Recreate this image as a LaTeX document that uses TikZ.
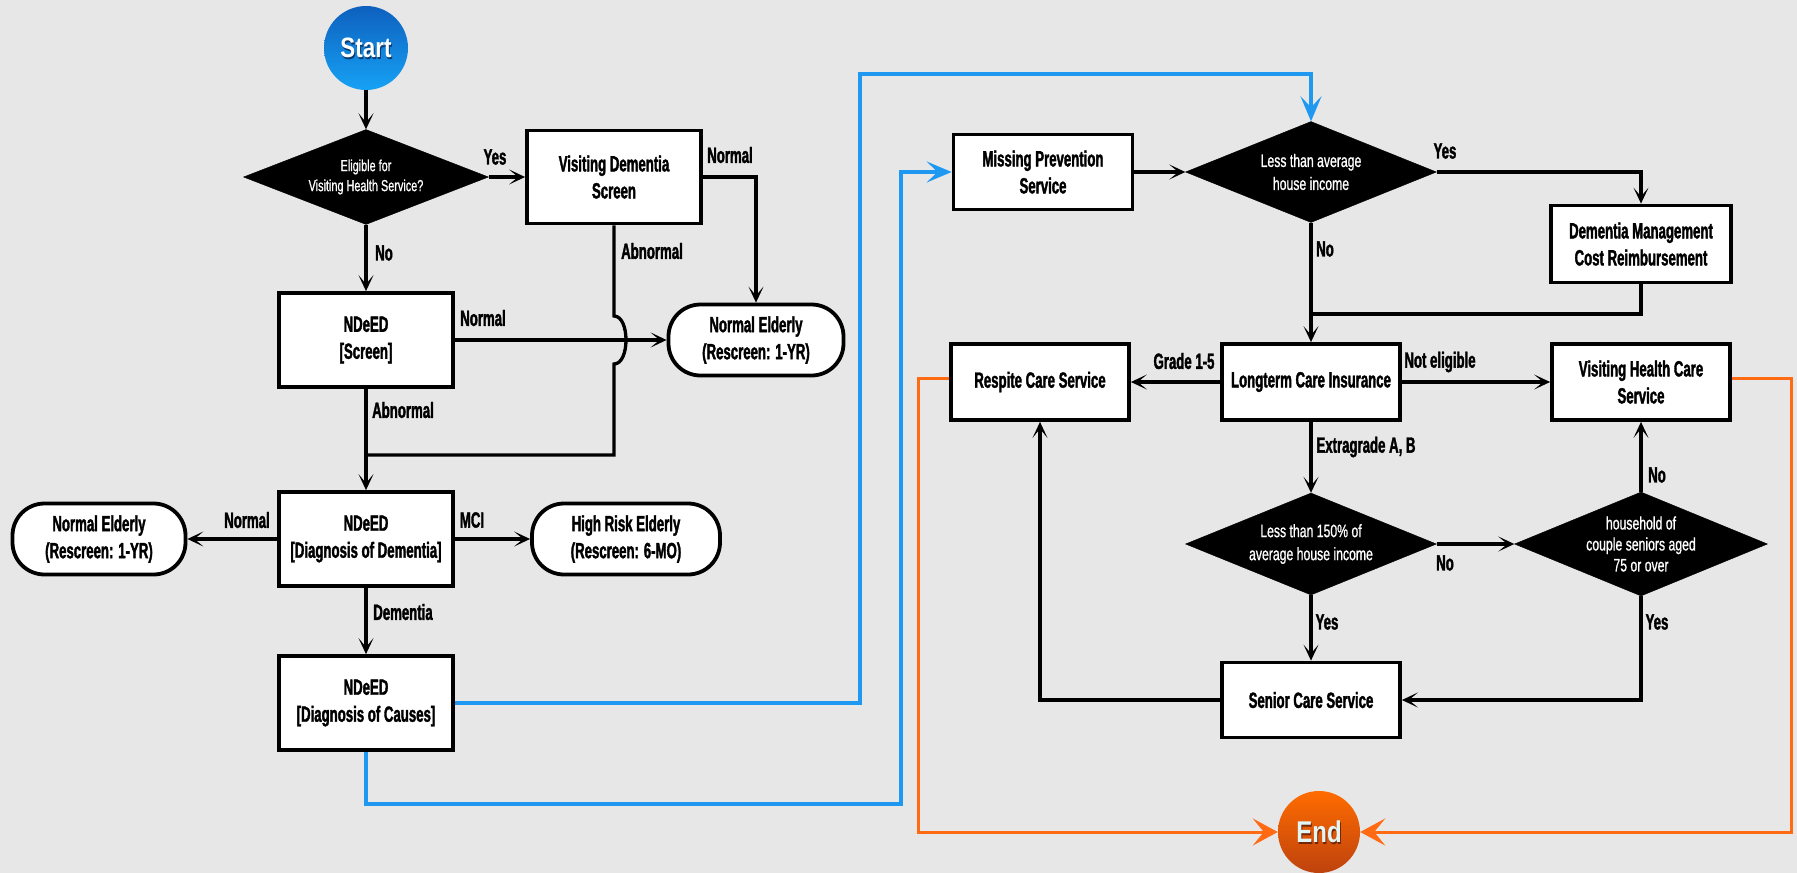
\documentclass[tikz,border=0pt]{standalone}
\usepackage{fontspec}
\setmainfont{Liberation Sans}
\newfontfamily\boxfont{Liberation Sans}[FakeStretch=0.6,FakeBold=1.6]
\newfontfamily\diafont{Liberation Sans}[FakeStretch=0.68,FakeBold=0.8]
\newfontfamily\termfont{Liberation Sans}[FakeStretch=0.8]
\usetikzlibrary{shapes.geometric,arrows.meta}
\definecolor{bg}{RGB}{231,231,231}
\definecolor{lblue}{RGB}{30,152,240}
\definecolor{lorange}{RGB}{255,106,19}
\definecolor{sTop}{RGB}{14,96,190}
\definecolor{sBot}{RGB}{22,162,245}
\definecolor{eTop}{RGB}{255,108,0}
\definecolor{eBot}{RGB}{190,66,14}
\definecolor{eTxt}{RGB}{226,244,244}
\begin{document}
\begin{tikzpicture}[x=1pt,y=-1pt,
  box/.style={draw=black,fill=white,line width=3.8pt,inner sep=0pt,minimum width=174pt,minimum height=94pt,align=center,font=\boxfont\bfseries\fontsize{22}{27}\selectfont},
  rbox/.style={box,rounded corners=32pt,minimum height=71pt},
  diam/.style={diamond,fill=black,draw=black,inner sep=0pt},
  dtxt/.style={inner sep=0pt,align=center,text=white,font=\diafont\fontsize{18}{23}\selectfont},
  term/.style={circle,inner sep=0pt},
  ttxt/.style={inner sep=0pt,font=\termfont\bfseries\fontsize{28}{30}\selectfont},
  lbl/.style={inner sep=0pt,font=\boxfont\bfseries\fontsize{22}{26}\selectfont},
  con/.style={line width=3.3pt,draw=black},
  arr/.style={con,-{Stealth[length=16pt,width=15pt,inset=9pt]}},
  barr/.style={line width=3.2pt,draw=lblue,-{Stealth[length=25pt,width=21pt,inset=11pt]}},
  oarr/.style={line width=3pt,draw=lorange,-{Stealth[length=25pt,width=27pt,inset=11pt]}}
]
\path[use as bounding box,fill=bg] (0,0) rectangle (1797,873);

% ---- left part ----
\node[term,minimum size=84pt,top color=sTop,bottom color=sBot] (start) at (366,48) {};
\node[ttxt,text=sTop!60!black] (starts) at ([xshift=1pt,yshift=-1.5pt]start) {Start};
\node[ttxt,text=white] (startt) at (start) {Start};
\node[diam,minimum width=245pt,minimum height=95pt] (d1) at (366,177) {};
\node[dtxt,font=\diafont\fontsize{16}{20}\selectfont] (d1t) at (d1) {Eligible for\\Visiting Health Service?};
\node[box,minimum height=93pt] (vds) at (614,177) {Visiting Dementia\\Screen};
\node[rbox,minimum width=175pt] (nel1) at (756,340) {Normal Elderly\\(Rescreen: 1-YR)};
\node[box] (scr) at (366,340) {NDeED\\{[Screen]}};
\node[box] (dem) at (366,539) {NDeED\\{[Diagnosis of Dementia]}};
\node[rbox,minimum width=173pt] (nel2) at (99,539) {Normal Elderly\\(Rescreen: 1-YR)};
\node[rbox,minimum width=188pt] (hr) at (626,539) {High Risk Elderly\\(Rescreen: 6-MO)};
\node[box] (cau) at (366,703) {NDeED\\{[Diagnosis of Causes]}};

% ---- right part ----
\node[box,minimum width=179pt,minimum height=75pt] (mps) at (1043,172) {Missing Prevention\\Service};
\node[diam,minimum width=251pt,minimum height=101pt] (d2) at (1311,172) {};
\node[dtxt] (d2t) at (d2) {Less than average\\house income};
\node[box,minimum width=180pt,minimum height=77pt] (dmc) at (1641,244) {Dementia Management\\Cost Reimbursement};
\node[box,minimum width=178pt,minimum height=76pt] (ltc) at (1311,382) {Longterm Care Insurance};
\node[box,minimum width=178pt,minimum height=76pt] (res) at (1040,382) {Respite Care Service};
\node[box,minimum width=178pt,minimum height=76pt] (vhc) at (1641,382) {Visiting Health Care\\Service};
\node[diam,minimum width=251pt,minimum height=102pt] (d3) at (1311,544) {};
\node[dtxt] (d3t) at (d3) {Less than 150\% of\\average house income};
\node[diam,minimum width=253pt,minimum height=104pt] (d4) at (1641,544) {};
\node[dtxt,font=\diafont\fontsize{18}{21}\selectfont] (d4t) at (d4) {household of\\couple seniors aged\\75 or over};
\node[box,minimum width=178pt,minimum height=75pt] (sen) at (1311,700) {Senior Care Service};
\node[term,minimum size=82pt,top color=eTop,bottom color=eBot] (end) at (1319,832) {};
\node[ttxt,font=\termfont\bfseries\fontsize{30}{32}\selectfont,text=eBot!60!black] (ends) at ([xshift=1pt,yshift=-1.5pt]end) {End};
\node[ttxt,font=\termfont\bfseries\fontsize{30}{32}\selectfont,text=eTxt] (endt) at (end) {End};

% ---- coordinates ----
\coordinate (ja) at (614,316);
\coordinate (jb) at (614,364);
\coordinate (jc) at (614,455);
\coordinate (jd) at (366,455);
\coordinate (mg) at (1311,314);

% ---- black connectors ----
\draw[arr] (start) -- (d1.north);
\draw[arr] (d1.east) -- (vds.west);
\draw[arr] (vds.east) -| (nel1.north);
\draw[arr] (d1.south) -- (scr.north);
\draw[arr] (scr.east) -- (nel1.west);
\draw[con] (vds.south) -- (ja) .. controls (630,316) and (630,364) .. (jb) -- (jc) -- (jd);
\draw[arr] (scr.south) -- (dem.north);
\draw[arr] (dem.west) -- (nel2.east);
\draw[arr] (dem.east) -- (hr.west);
\draw[arr] (dem.south) -- (cau.north);

\draw[arr] (mps.east) -- (d2.west);
\draw[arr] (d2.east) -| (dmc.north);
\draw[arr] (d2.south) -- (ltc.north);
\draw[con] (dmc.south) |- (mg);
\draw[arr] (ltc.west) -- (res.east);
\draw[arr] (ltc.east) -- (vhc.west);
\draw[arr] (ltc.south) -- (d3.north);
\draw[arr] (d3.east) -- (d4.west);
\draw[arr] (d4.north) -- (vhc.south);
\draw[arr] (d4.south) |- (sen.east);
\draw[arr] (d3.south) -- (sen.north);
\draw[arr] (sen.west) -| (res.south);

% ---- blue connectors ----
\draw[barr] (cau.east) -| (860,74) -| (d2.north);
\draw[barr] (cau.south) |- (901,804) |- (mps.west);

% ---- orange connectors ----
\draw[oarr] ([yshift=4pt]res.west) -| (918,832) -- (end.west);
\draw[oarr] ([yshift=4pt]vhc.east) -| (1791,832) -- (end.east);

% ---- labels ----
\node[lbl] (l1) at (495,157) {Yes};
\node[lbl] (l2) at (730,155) {Normal};
\node[lbl] (l3) at (384,253) {No};
\node[lbl] (l4) at (652,251) {Abnormal};
\node[lbl] (l5) at (483,318) {Normal};
\node[lbl] (l6) at (403,410) {Abnormal};
\node[lbl] (l7) at (247,520) {Normal};
\node[lbl] (l8) at (472,520) {MCI};
\node[lbl] (l9) at (403,612) {Dementia};
\node[lbl] (l10) at (1445,151) {Yes};
\node[lbl] (l11) at (1325,249) {No};
\node[lbl] (l12) at (1184,361) {Grade 1-5};
\node[lbl] (l13) at (1440,362) {Not eligible};
\node[lbl] (l14) at (1366,447) {Extragrade A, B};
\node[lbl] (l15) at (1445,563) {No};
\node[lbl] (l16) at (1657,475) {No};
\node[lbl] (l17) at (1657,622) {Yes};
\node[lbl] (l18) at (1327,622) {Yes};
\end{tikzpicture}
\end{document}
